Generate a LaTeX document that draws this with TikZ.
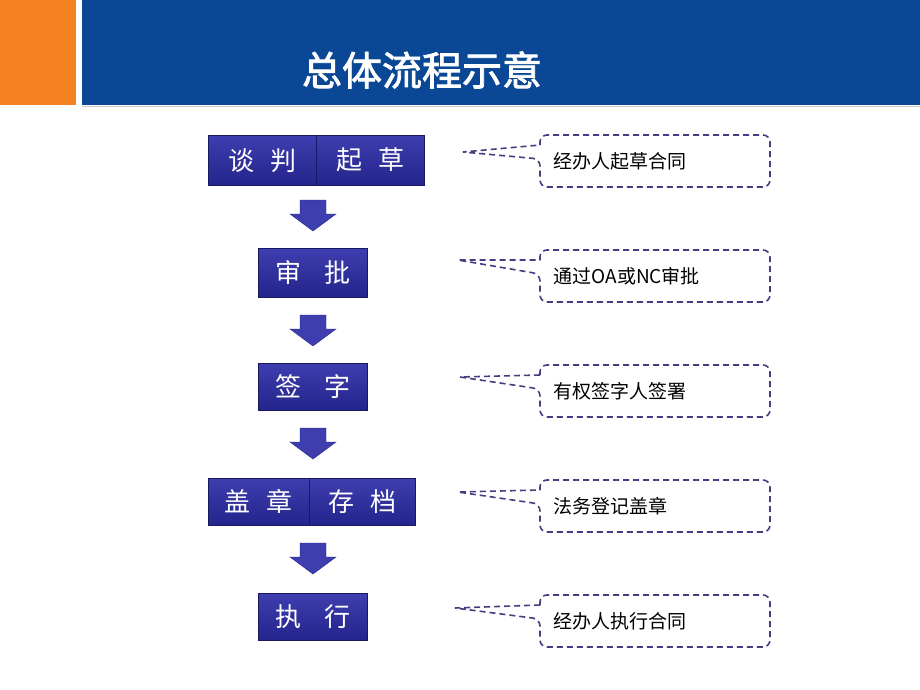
\documentclass[tikz,border=0pt]{standalone}
\usepackage{fontspec}
\newfontfamily\cjk{Noto Sans CJK SC}
\newfontfamily\cjkb[FakeBold=2]{Noto Sans CJK SC}
\definecolor{navy}{RGB}{36,36,140}
\definecolor{navyl}{RGB}{62,62,175}
\definecolor{barblue}{RGB}{10,72,150}
\definecolor{orng}{RGB}{245,130,32}
\definecolor{dash}{RGB}{70,60,130}
\tikzset{
  stepbox/.style={draw=navy!70!black, top color=navyl, bottom color=navy, text=white, font=\cjk\fontsize{26}{26}\selectfont, inner sep=0pt, anchor=north west},
  arr/.style={fill=navyl, draw=navy},
  callout/.style={draw=dash, dashed, line width=1.6pt, dash pattern=on 6pt off 4pt, rounded corners=7pt},
  ctext/.style={font=\cjk\fontsize{19}{19}\selectfont, anchor=west}
}
\begin{document}
\begin{tikzpicture}[x=1pt,y=-1pt]
\useasboundingbox (0,0) rectangle (920,690);
\fill[white] (0,0) rectangle (920,690);
\fill[orng] (0,0) rectangle (76,105);
\fill[barblue] (82,0) rectangle (920,105);
\draw[gray!40, line width=1pt] (82,107) -- (920,107);
\node[text=white, font=\cjkb\fontsize{40}{40}\selectfont] (title) at (422,70) {总体流程示意};
% boxes
\node[stepbox, minimum width=108pt, minimum height=50pt] (b1a) at (208,135) {谈\hspace{0.6em}判};
\node[stepbox, minimum width=108pt, minimum height=50pt] (b1b) at (316,135) {起\hspace{0.6em}草};
\node[stepbox, minimum width=109pt, minimum height=49pt] (b2) at (258,248) {审\hspace{0.9em}批};
\node[stepbox, minimum width=109pt, minimum height=47pt] (b3) at (258,363) {签\hspace{0.9em}字};
\node[stepbox, minimum width=101pt, minimum height=47pt] (b4a) at (208,478) {盖\hspace{0.6em}章};
\node[stepbox, minimum width=106pt, minimum height=47pt] (b4b) at (309,478) {存\hspace{0.6em}档};
\node[stepbox, minimum width=109pt, minimum height=47pt] (b5) at (258,593) {执\hspace{0.9em}行};
% arrows
\foreach \t in {200,315,428,543}{
  \draw[arr] (300,\t) -- (326,\t) -- (326,\t+14) -- (336,\t+14) -- (313,\t+31) -- (290,\t+14) -- (300,\t+14) -- cycle;
}
% callouts
\foreach \n/\tx/\ty/\top/\txt in {c1/463/152/135/经办人起草合同, c2/458/260/250/通过OA或NC审批, c3/460/377/365/有权签字人签署, c4/458/492/480/法务登记盖章, c5/455/608/595/经办人执行合同}{
  \draw[callout] (540,\top+10) -- (540,\top) -- (770,\top) -- (770,\top+52) -- (540,\top+52) -- (540,\top+24) [sharp corners] -- (\tx,\ty) -- (540,\top+10);
  \node[ctext] (\n) at (550,\top+26) {\txt};
}
\end{tikzpicture}
\end{document}
